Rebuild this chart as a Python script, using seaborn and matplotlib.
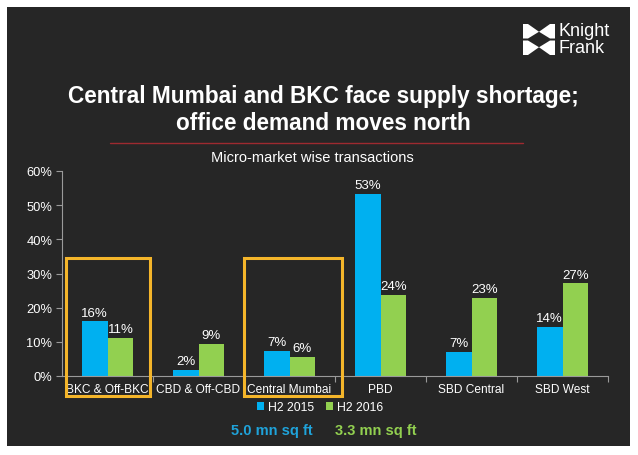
import matplotlib
matplotlib.use("Agg")
import matplotlib.pyplot as plt
from matplotlib.patches import Rectangle, Polygon
from matplotlib.ticker import FixedLocator
import seaborn as sns
import pandas as pd

# ---- data ----
markets = ["BKC & Off-BKC", "CBD & Off-CBD", "Central Mumbai", "PBD", "SBD Central", "SBD West"]
h2_2015 = [16.0, 1.8, 7.4, 53.4, 7.1, 14.4]
h2_2016 = [11.2, 9.4, 5.7, 23.8, 22.9, 27.1]
series_names = ["H2 2015", "H2 2016"]
yticks = [0, 10, 20, 30, 40, 50, 60]
title_text = "Central Mumbai and BKC face supply shortage;\noffice demand moves north"
subtitle_text = "Micro-market wise transactions"
total_2015 = "5.0 mn sq ft"
total_2016 = "3.3 mn sq ft"

df = pd.DataFrame({
    "market": markets * 2,
    "value": h2_2015 + h2_2016,
    "period": [series_names[0]] * len(markets) + [series_names[1]] * len(markets),
})

BG = "#262626"
BLUE = "#00B0F0"
GREEN = "#92D050"
ORANGE = "#F4B52A"
AXC = "#9A9A9A"

sns.set_theme(style="white")
plt.rcParams["font.family"] = ["Liberation Sans", "DejaVu Sans"]

W, H = 638, 456
fig = plt.figure(figsize=(W / 100, H / 100), dpi=100, facecolor="white")

def px(x, y):
    return x / W, 1 - y / H

# dark panel
fig.patches.append(Rectangle(px(7, 447), (630 - 7) / W, (447 - 8) / H,
                             transform=fig.transFigure, facecolor=BG, edgecolor="none", zorder=-5))

ax = fig.add_axes([62 / W, 1 - 377 / H, (608 - 62) / W, (377 - 172) / H])
ax.set_facecolor("none")
ax.set_zorder(1)

sns.barplot(data=df, x="market", y="value", hue="period", palette=[BLUE, GREEN],
            width=0.57, gap=0, saturation=1, ax=ax, legend=False, errorbar=None)
for p in ax.patches:
    p.set_edgecolor("none")

for c in ax.containers:
    ax.bar_label(c, fmt="%.0f%%", padding=2, color="white", fontsize=9.5)

ax.set_ylim(0, 60)
ax.set_xlim(-0.5, len(markets) - 0.5)
ax.set_yticks(yticks)
ax.set_yticklabels([f"{t}%" for t in yticks], color="white", fontsize=9.3)
ax.set_xlabel("")
ax.set_ylabel("")
ax.tick_params(axis="x", length=0, colors="white", labelsize=8.6, pad=5)
ax.tick_params(axis="y", length=4, color=AXC, width=0.8, pad=3, left=True)
ax.xaxis.set_minor_locator(FixedLocator([i - 0.5 for i in range(1, len(markets) + 1)]))
ax.tick_params(axis="x", which="minor", length=4, color=AXC, width=0.8, bottom=True, direction="out")
for s in ["top", "right"]:
    ax.spines[s].set_visible(False)
for s in ["left", "bottom"]:
    ax.spines[s].set_color(AXC)
    ax.spines[s].set_linewidth(0.8)
ax.grid(False)

# highlight boxes
for x0, x1 in [(-0.46, 0.467), (1.5, 2.577)]:
    ax.add_patch(Rectangle((x0, -5.85), x1 - x0, 34.5 + 5.85, fill=False,
                           edgecolor=ORANGE, linewidth=2.2, clip_on=False, zorder=5))

# legend
handles = [Rectangle((0, 0), 1, 1, facecolor=BLUE, edgecolor="none"),
           Rectangle((0, 0), 1, 1, facecolor=GREEN, edgecolor="none")]
fig.legend(handles, series_names, loc="center", bbox_to_anchor=px(320, 408), ncol=2,
           frameon=False, handlelength=0.6, handleheight=0.6, handletextpad=0.3,
           columnspacing=1.0, fontsize=8.8, labelcolor="white")

# totals
fig.text(*px(272, 431), total_2015, color="#1FA3DA", fontsize=10.5, fontweight="bold",
         ha="center", va="center")
fig.text(*px(376, 431), total_2016, color=GREEN, fontsize=10.5, fontweight="bold",
         ha="center", va="center")

# title, rule, subtitle
fig.text(*px(323, 110), title_text, color="white", fontsize=16.3, fontweight="bold",
         ha="center", va="center", linespacing=1.25)
fig.add_artist(plt.Line2D([110 / W, 523 / W], [1 - 144 / H] * 2, color="#9E2A30",
                          linewidth=1.0, transform=fig.transFigure))
fig.text(*px(312, 158), subtitle_text, color="white", fontsize=10.5, ha="center", va="center")

# logo
def tri(pts):
    fig.patches.append(Polygon([px(x, y) for x, y in pts], closed=True,
                               transform=fig.transFigure, facecolor="white",
                               edgecolor="none", zorder=2))
x0, x1, y0, y1 = 523, 555, 25, 56
xm, ym = (x0 + x1) / 2, (y0 + y1) / 2
tri([(x0, y0), (x0 + 5, y0), (xm, (y0 + ym) / 2), (x0 + 5, ym - 1), (x0, ym - 1)])
tri([(x1, y0), (x1 - 5, y0), (xm, (y0 + ym) / 2), (x1 - 5, ym - 1), (x1, ym - 1)])
tri([(x0, ym + 1), (x0 + 5, ym + 1), (xm, (ym + y1) / 2), (x0 + 5, y1), (x0, y1)])
tri([(x1, ym + 1), (x1 - 5, ym + 1), (xm, (ym + y1) / 2), (x1 - 5, y1), (x1, y1)])
fig.text(*px(558, 40), "Knight\nFrank", color="white", fontsize=13,
         family=["Liberation Sans Narrow", "Liberation Sans", "DejaVu Sans"],
         ha="left", va="center", linespacing=0.95)

fig.savefig("out.png", dpi=100, facecolor="white")
